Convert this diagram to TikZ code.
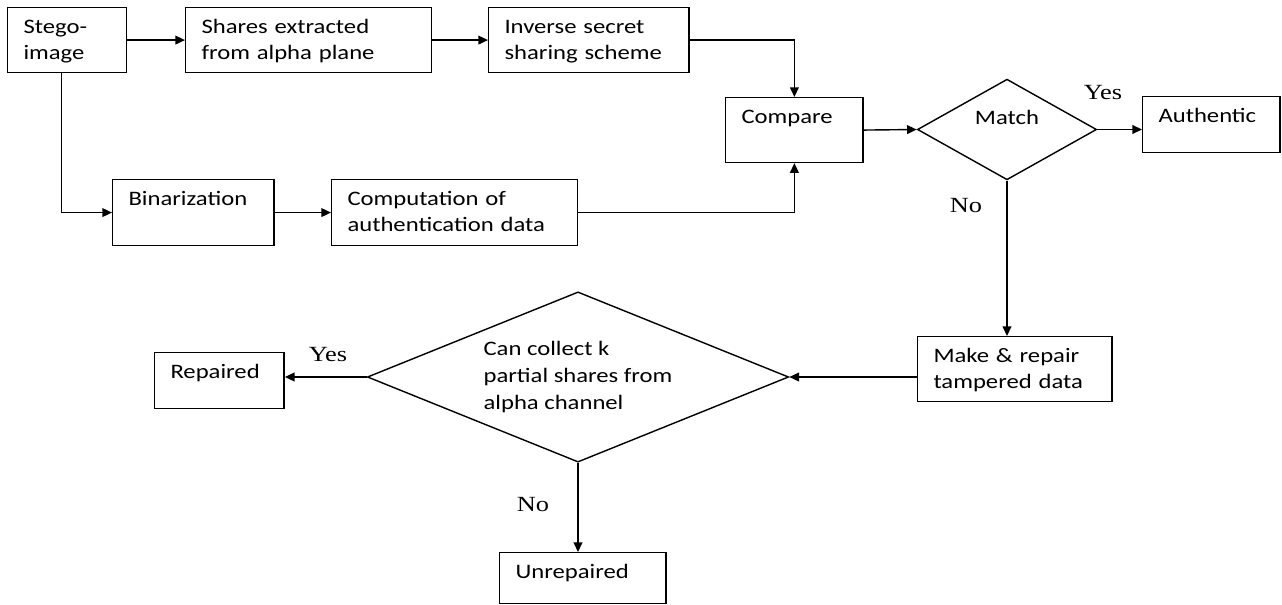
\documentclass[tikz,border=0pt]{standalone}
\usepackage{fontspec}
\setmainfont[FakeStretch=1.2]{Carlito}
\newfontfamily\ynfont[FakeStretch=1.22]{Liberation Serif}
\usetikzlibrary{shapes.geometric,arrows.meta}

\begin{document}
\begin{tikzpicture}[
    x=0.02cm, y=-0.02cm,
    line width=0.8pt,
    box/.style 2 args={draw, anchor=north west, align=left,
        inner xsep=9pt, inner ysep=0pt,
        text height=14.7pt, text width=#1, text depth=#2,
        font=\fontsize{11.7}{14.7}\selectfont},
    dec/.style={draw, shape=diamond, align=left, inner sep=3pt,
        font=\fontsize{11.7}{15.5}\selectfont},
    yn/.style={font=\ynfont\fontsize{12.3}{13}\selectfont, inner sep=0pt},
    arr/.style={-{Triangle[length=5.5pt,width=5pt]}}
]
\useasboundingbox (0,0) rectangle (1282,605);

\node[box={49.5pt}{22.15pt}] (stego) at (7,7) {Stego-\\image};
\node[box={122pt}{22.15pt}] (shares) at (185,7) {Shares extracted\\from alpha plane};
\node[box={95.9pt}{22.15pt}] (inverse) at (488,7) {Inverse secret\\sharing scheme};
\node[box={60.2pt}{22.15pt}] (compare) at (725,97) {Compare};
\node[dec, minimum width=102pt, minimum height=57.3pt, shape aspect=1.78,
    text height=7pt, text depth=12.6pt] (match) at (1007,129.5) {Match};
\node[box={60.2pt}{17.05pt}] (authentic) at (1142,96) {Authentic};
\node[box={73.8pt}{22.7pt}] (binar) at (112,179) {Binarization};
\node[box={122pt}{22.7pt}] (comput) at (331,179) {Computation of\\authentication data};
\node[box={92.5pt}{22.15pt}] (make) at (917,336) {Make \& repair\\tampered data};
\node[dec, minimum width=239.8pt, minimum height=96.9pt, shape aspect=2.47]
    (canrep) at (578,377) {Can collect k\\partial shares from\\alpha channel};
\node[box={55.7pt}{17.05pt}] (repaired) at (154,352) {Repaired};
\node[box={76.7pt}{14.2pt}] (unrep) at (499,552) {Unrepaired};

\node[yn] (yes1) at (1103,93) {Yes};
\node[yn] (no1) at (966,206) {No};
\node[yn] (yes2) at (328,355) {Yes};
\node[yn] (no2) at (533,505) {No};

\draw[arr] (stego.east) -- (shares.west);
\draw[arr] (shares.east) -- (inverse.west);
\draw[arr] (inverse.east) -| (compare.north);
\draw[arr] ([xshift=-3pt]stego.south) |- (binar.west);
\draw[arr] (binar.east) -- (comput.west);
\draw[arr] (comput.east) -| (compare.south);
\draw[arr] (compare.east) -- (match.west);
\draw[arr] (match.east) -- (match.east -| authentic.west);
\draw[arr] (match.south) -- (match.south |- make.north);
\draw[arr] (canrep.east -| make.west) -- (canrep.east);
\draw[arr] (canrep.west) -- (canrep.west -| repaired.east);
\draw[arr] (canrep.south) -- (canrep.south |- unrep.north);
\end{tikzpicture}
\end{document}
